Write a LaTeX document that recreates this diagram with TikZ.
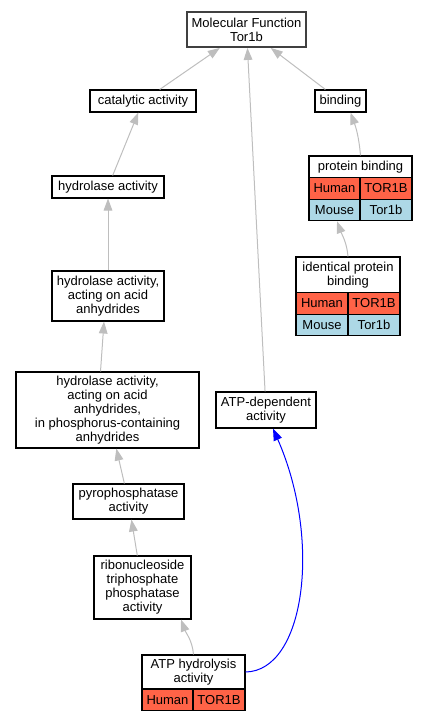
\documentclass[tikz,border=0pt]{standalone}
\usepackage{fontspec}
\setmainfont{Liberation Sans}
\usetikzlibrary{arrows.meta,calc}
\definecolor{human}{HTML}{FF6347}
\definecolor{mouse}{HTML}{ADD8E6}
\definecolor{isagray}{HTML}{BEBEBE}
\tikzset{
  box/.style = {draw, line width = 0.8pt, fill = white, align = center, inner sep = 1pt,
    font = \fontsize{9.75}{10.5}\selectfont},
  cell/.style = {box, minimum height = 16pt},
  isa/.style = {draw = isagray, line width = 0.75pt, -{Triangle[length = 9pt, width = 6.5pt]}},
  part/.style = {draw = blue, line width = 0.75pt, -{Triangle[length = 9pt, width = 6.5pt]}, fill = none}
}
\begin{document}
\begin{tikzpicture}[x = 0.75pt, y = -0.75pt]
            \useasboundingbox (0,0) rectangle (427,723);
            %Root
            \node [box, draw = black!75, line width = 1.4pt, minimum width = 89.25pt, minimum height = 26.25pt]
            (mf)at(246.5,29.5){Molecular Function\\Tor1b};
            %Catalytic
            \node [box, minimum width = 79.5pt, minimum height = 16.5pt]
            (cat)at(143,101){catalytic activity};
            \node [box, minimum width = 84pt, minimum height = 16.5pt]
            (hyd)at(108,187){hydrolase activity};
            \node [box, minimum width = 84pt, minimum height = 37.5pt]
            (hydacid)at(108,296){hydrolase activity,\\acting on acid\\anhydrides};
            \node [box, minimum width = 137.25pt, minimum height = 57pt]
            (hydphos)at(107.5,410){hydrolase activity,\\acting on acid\\anhydrides,\\in phosphorus-containing\\anhydrides};
            \node [box, minimum width = 83.25pt, minimum height = 26.25pt]
            (pyro)at(128.5,501.5){pyrophosphatase\\activity};
            \node [box, minimum width = 72.75pt, minimum height = 47.25pt]
            (ntpase)at(142.5,587.5){ribonucleoside\\triphosphate\\phosphatase\\activity};
            %ATP
            \node [box, minimum width = 75pt, minimum height = 27pt]
            (atpdep)at(266,410){ATP-dependent\\activity};
            \node [box, minimum width = 77.25pt, minimum height = 25.5pt]
            (atphyd)at(193.5,672){ATP hydrolysis\\activity};
            \node [cell, fill = human, minimum width = 38.25pt]
            (atphydh)at(167.5,700){Human};
            \node [cell, fill = human, minimum width = 39pt]
            (atphydg)at(219,700){TOR1B};
            %Binding
            \node [box, minimum width = 38.25pt, minimum height = 16.5pt]
            (bind)at(340.5,101){binding};
            \node [box, minimum width = 77.25pt, minimum height = 16.5pt]
            (pb)at(360.5,167){protein binding};
            \node [cell, fill = human, minimum width = 38.25pt]
            (pbh)at(334.5,188.5){Human};
            \node [cell, fill = human, minimum width = 39pt]
            (pbhg)at(386,188.5){TOR1B};
            \node [cell, fill = mouse, minimum width = 38.25pt]
            (pbm)at(334.5,210){Mouse};
            \node [cell, fill = mouse, minimum width = 39pt]
            (pbmg)at(386,210){Tor1b};
            \node [box, minimum width = 78pt, minimum height = 27pt]
            (ipb)at(348,275){identical protein\\binding};
            \node [cell, fill = human, minimum width = 39pt]
            (ipbh)at(322,303.5){Human};
            \node [cell, fill = human, minimum width = 39pt]
            (ipbhg)at(374,303.5){TOR1B};
            \node [cell, fill = mouse, minimum width = 39pt]
            (ipbm)at(322,325){Mouse};
            \node [cell, fill = mouse, minimum width = 39pt]
            (ipbmg)at(374,325){Tor1b};

            \draw [isa](cat)--(mf);
            \draw [isa](atpdep)--(mf);
            \draw [isa](bind)--(mf);
            \draw [isa](hyd)--(cat);
            \draw [isa](hydacid)--(hyd);
            \draw [isa]($(hydphos.north)+(-7,0)$)--($(hydacid.south)+(-4,0)$);
            \draw [isa](pyro)--(hydphos);
            \draw [isa](ntpase)--(pyro);
            \draw [isa](atphyd.north) to[out = 95, in = -70] ($(ntpase.south)+(38.5,0)$);
            \draw [isa](pb.north) to[out = 95, in = -70] ($(bind.south)+(10,0)$);
            \draw [isa](ipb.north) to[out = 95, in = -70] ($(pbm.south)+(2.5,0)$);
            \draw [part](atphyd.east) .. controls (305,671) and (322,540) .. ($(atpdep.south)+(7,0)$);

        \end{tikzpicture}
\end{document}
